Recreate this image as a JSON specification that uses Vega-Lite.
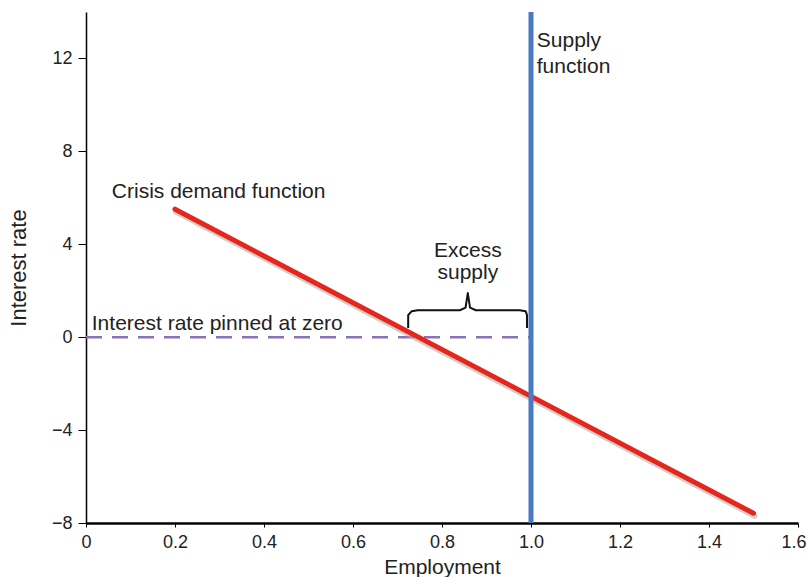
{
  "$schema": "https://vega.github.io/schema/vega-lite/v6.json",
  "width": 712,
  "height": 511,
  "autosize": {"type": "none"},
  "padding": {"left": 86, "top": 12, "right": 9, "bottom": 54},
  "background": "white",
  "config": {
    "view": {"stroke": null},
    "font": "Liberation Sans",
    "axis": {"grid": false, "domainColor": "#000000", "tickColor": "#000000", "labelColor": "#222222", "titleColor": "#222222", "labelFont": "Liberation Sans", "titleFont": "Liberation Sans", "titleFontWeight": "normal"}
  },
  "datasets": {
    "demand": [{"x": 0.2, "y": 5.51}, {"x": 1.5, "y": -7.58}],
    "supply": [{"x": 1.0, "y": -8, "y2": 14}],
    "zero": [{"x": 0, "y": 0}, {"x": 1.0, "y": 0}],
    "brace": [
      {"o": 1, "x": 0.724, "y": 0.4},
      {"o": 2, "x": 0.724, "y": 0.95},
      {"o": 3, "x": 0.732, "y": 1.12},
      {"o": 4, "x": 0.745, "y": 1.16},
      {"o": 5, "x": 0.84, "y": 1.16},
      {"o": 6, "x": 0.853, "y": 1.27},
      {"o": 7, "x": 0.858, "y": 1.9},
      {"o": 8, "x": 0.863, "y": 1.27},
      {"o": 9, "x": 0.876, "y": 1.16},
      {"o": 10, "x": 0.975, "y": 1.16},
      {"o": 11, "x": 0.988, "y": 1.12},
      {"o": 12, "x": 0.991, "y": 0.95},
      {"o": 13, "x": 0.991, "y": 0.4}
    ],
    "leftLabels": [
      {"x": 0.058, "y": 5.98, "label": "Crisis demand function"},
      {"x": 0.013, "y": 0.3, "label": "Interest rate pinned at zero"},
      {"x": 1.013, "y": 12.48, "label": "Supply"},
      {"x": 1.013, "y": 11.36, "label": "function"}
    ],
    "centerLabels": [
      {"x": 0.858, "y": 3.44, "label": "Excess"},
      {"x": 0.858, "y": 2.5, "label": "supply"}
    ]
  },
  "encoding": {
    "x": {
      "field": "x", "type": "quantitative",
      "scale": {"domain": [0, 1.6], "nice": false, "zero": false},
      "axis": {
        "title": "Employment", "values": [0, 0.2, 0.4, 0.6, 0.8, 1.0, 1.2, 1.4, 1.6],
        "labelExpr": "datum.value === 0 ? '0' : format(datum.value, '.1f')",
        "tickSize": 4, "domainWidth": 2.5, "tickWidth": 1,
        "labelFontSize": 18, "titleFontSize": 21, "labelPadding": 6, "titlePadding": 5,
        "labelFlush": false,
        "labelAlign": {"condition": {"test": "datum.value >= 1.59", "value": "right"}, "value": "center"},
        "labelOffset": {"condition": {"test": "datum.value >= 1.59", "value": 8}, "value": 0}
      }
    },
    "y": {
      "field": "y", "type": "quantitative",
      "scale": {"domain": [-8, 14], "nice": false, "zero": false},
      "axis": {
        "title": "Interest rate", "values": [-8, -4, 0, 4, 8, 12],
        "tickSize": 8, "domainWidth": 1.5, "tickWidth": 1,
        "labelFontSize": 18, "titleFontSize": 22, "labelPadding": 6, "titlePadding": 21
      }
    }
  },
  "layer": [
    {
      "data": {"name": "zero"},
      "mark": {"type": "line", "color": "#8b72b6", "strokeWidth": 2.5, "strokeDash": [16, 10]}
    },
    {
      "data": {"name": "demand"},
      "mark": {"type": "line", "color": "#b8aca2", "strokeWidth": 6, "opacity": 0.6, "xOffset": 1, "yOffset": 2.5, "strokeCap": "round"}
    },
    {
      "data": {"name": "demand"},
      "mark": {"type": "line", "color": "#e5261d", "strokeWidth": 5, "strokeCap": "round"}
    },
    {
      "data": {"name": "supply"},
      "mark": {"type": "rule", "color": "#4a7bc2", "strokeWidth": 5},
      "encoding": {"y2": {"field": "y2"}}
    },
    {
      "data": {"name": "brace"},
      "mark": {"type": "line", "color": "#111111", "strokeWidth": 2, "strokeJoin": "round"},
      "encoding": {"order": {"field": "o", "type": "quantitative"}}
    },
    {
      "data": {"name": "leftLabels"},
      "mark": {"type": "text", "align": "left", "baseline": "alphabetic", "fontSize": 21, "color": "#222222", "font": "Liberation Sans"},
      "encoding": {"text": {"field": "label"}}
    },
    {
      "data": {"name": "centerLabels"},
      "mark": {"type": "text", "align": "center", "baseline": "alphabetic", "fontSize": 21, "color": "#222222", "font": "Liberation Sans"},
      "encoding": {"text": {"field": "label"}}
    }
  ]
}
